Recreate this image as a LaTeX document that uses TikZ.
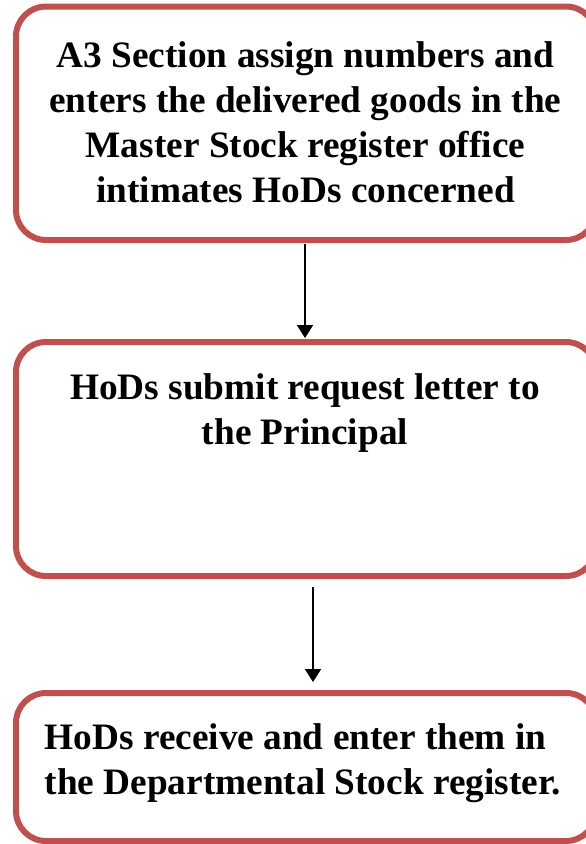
\documentclass[tikz,border=0pt]{standalone}
\usepackage{fontspec}
\setmainfont{Liberation Serif}
\usetikzlibrary{arrows.meta}
\definecolor{boxred}{HTML}{C0504D}
\begin{document}
\begin{tikzpicture}[x=1pt,y=-1pt,
  stepbox/.style={draw=boxred, line width=6pt, rounded corners=30pt,
    rectangle, inner sep=0pt, outer sep=0pt},
  steptext/.style={font=\fontsize{37.3}{45}\selectfont\bfseries, inner sep=0pt},
  flow/.style={line width=2pt, -{Triangle[width=16pt,length=13pt]}}]
\useasboundingbox (0,0) rectangle (586,844);
\begin{scope}
\clip (0,0) rectangle (586,844);
% the three process boxes
\node[stepbox, minimum width=580pt, minimum height=233.5pt] (b1) at (306,123.25) {};
\node[stepbox, minimum width=580pt, minimum height=234pt] (b2) at (306,459) {};
\node[stepbox, minimum width=580pt, minimum height=148pt] (b3) at (306,767) {};
\end{scope}
% texts
\node[steptext, align=center] (t1) at (305.5,122.5) {A3 Section assign numbers and\\enters the delivered goods in the\\Master Stock register office\\intimates HoDs concerned};
\node[steptext, align=center] (t2) at (305,413) {HoDs submit request letter to\\the Principal};
\node[steptext, align=left, anchor=west] (t3) at (44.5,763) {HoDs receive and enter them in\\the Departmental Stock register.};
% connectors
\coordinate (a1s) at (305,244);
\coordinate (a1e) at (305,338);
\coordinate (a2s) at (313,587);
\coordinate (a2e) at (313,682);
\draw[flow] (a1s) -- (a1e);
\draw[flow] (a2s) -- (a2e);
\end{tikzpicture}
\end{document}
